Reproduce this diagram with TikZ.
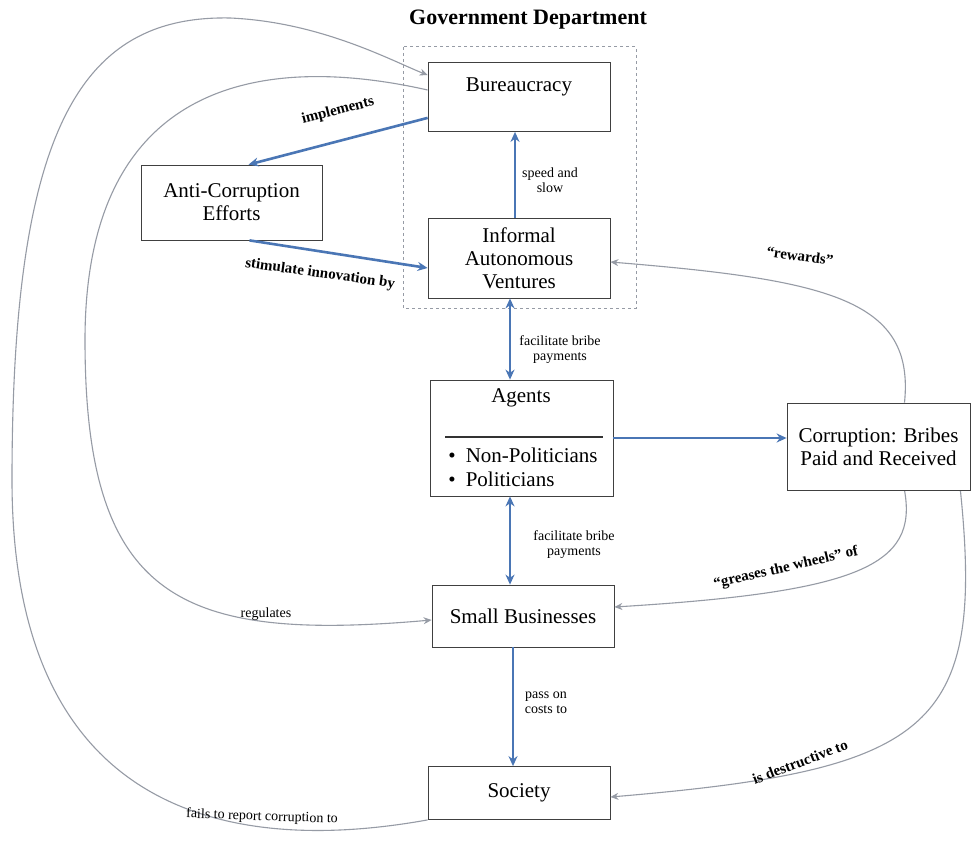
\documentclass[tikz,border=0pt]{standalone}
\usepackage{fontspec}
\setmainfont{Liberation Serif}
\usetikzlibrary{arrows.meta,calc}
\definecolor{flowblue}{RGB}{74,118,181}
\definecolor{curvegray}{RGB}{150,155,165}
\tikzset{
  box/.style={draw=black!75, line width=0.8pt, fill=white, inner sep=2pt, align=center,
              font=\fontsize{21}{23}\selectfont},
  bluearrow/.style={draw=flowblue, line width=2.6pt, -{Stealth[length=10pt,width=9pt]}},
  bluetwo/.style={draw=flowblue, line width=2.6pt, {Stealth[length=10pt,width=9pt]}-{Stealth[length=10pt,width=9pt]}},
  grayarrow/.style={draw=curvegray, line width=1.1pt, -{Stealth[length=8pt,width=7pt]}},
  lbl/.style={font=\fontsize{14}{15}\selectfont, align=center, inner sep=1pt},
  blbl/.style={font=\fontsize{15}{16}\selectfont\bfseries, inner sep=1pt},
}
\begin{document}
\begin{tikzpicture}[x=1pt,y=-1pt]
\useasboundingbox[fill=white] (0,0) rectangle (971,842);

% title
\node[font=\fontsize{22}{24}\selectfont\bfseries] (title) at (528,20) {Government Department};

% dashed group
\draw[curvegray, dashed, line width=1pt] (403,47) rectangle (636,308);

% boxes
\node[box, minimum width=182pt, minimum height=69pt] (bur) at (519,97) {};
\node[box, draw=none, fill=none, anchor=north] (burtxt) at ([yshift=-13pt]bur.north) {Bureaucracy};

\node[box, minimum width=181pt, minimum height=75pt] (anti) at (231.5,202.5) {Anti-Corruption\\Efforts};
\node[box, minimum width=182pt, minimum height=80pt] (inf) at (519,258) {Informal\\Autonomous\\Ventures};

\node[box, minimum width=183pt, minimum height=116pt] (agt) at (521.5,438) {};
\node[box, draw=none, fill=none] (agttxt) at (521,398) {Agents};
\draw[black!80, line width=1.6pt] (445,437) -- (603,437);
\node[box, draw=none, fill=none, anchor=west] (np) at (446,455) {\textbullet\hspace{10pt}Non-Politicians};
\node[box, draw=none, fill=none, anchor=west] (pol) at (446,479) {\textbullet\hspace{10pt}Politicians};

\node[box, minimum width=183pt, minimum height=87pt] (cor) at (878.5,446.5) {Corruption: Bribes\\Paid and Received};
\node[box, minimum width=182pt, minimum height=62pt] (sb) at (523,616) {Small Businesses};
\node[box, minimum width=182pt, minimum height=53pt] (soc) at (519,793) {Society};

% gray curves
\draw[grayarrow] (soc.south west) .. controls (250,852) and (12,830) .. (12,480)
   .. controls (12,130) and (80,15) .. (230,18)
   .. controls (320,22) and (390,60) .. ([yshift=-13pt]bur.north west);
\draw[grayarrow] ([yshift=7pt]bur.west) .. controls (250,50) and (85,90) .. (85,340)
   .. controls (85,600) and (180,642) .. ([yshift=-4pt]sb.west);
\draw[grayarrow] ([xshift=26pt]cor.north) .. controls (915,300) and (830,280) .. ([yshift=-4pt]inf.east);
\draw[grayarrow] ([xshift=26pt]cor.south) .. controls (918,565) and (860,592) .. ([yshift=9pt]sb.east);
\draw[grayarrow] ([xshift=-10pt]cor.south east) .. controls (985,730) and (930,770) .. ([yshift=-4pt]soc.east);

% redraw corruption box above curves
\node[box, minimum width=183pt, minimum height=87pt] (cor2) at (cor) {Corruption: Bribes\\Paid and Received};

% blue arrows
\draw[bluearrow] ($(bur.south west)+(0,-14)$) -- ([xshift=17pt]anti.north);
\draw[bluearrow] ([xshift=18pt]anti.south) -- ([yshift=-10pt]inf.west);
\draw[bluearrow] ([xshift=-4pt]inf.north) -- ([xshift=-4pt]bur.south);
\draw[bluetwo] ([xshift=-9pt]inf.south) -- ([xshift=-11.5pt]agt.north);
\draw[bluearrow] (agt.east) -- (cor.west |- agt.east);
\draw[bluetwo] ([xshift=-11.5pt]agt.south) -- ([xshift=-13pt]sb.north);
\draw[bluearrow] ([xshift=-10pt]sb.south) -- ([xshift=-6pt]soc.north);

% labels
\node[blbl, rotate=14.5] (limp) at (338,111) {implements};
\node[blbl, rotate=-8] (lstim) at (320,274) {stimulate innovation by};
\node[lbl] (lspeed) at (550,180) {speed and\\slow};
\node[lbl] (lfac1) at (560,350) {facilitate bribe\\payments};
\node[lbl] (lfac2) at (574,545) {facilitate bribe\\payments};
\node[lbl] (lpass) at (546,703) {pass on\\costs to};
\node[blbl, rotate=-8] (lrew) at (800,256) {``rewards''};
\node[blbl, rotate=13] (lgrease) at (786,568) {``greases the wheels'' of};
\node[blbl, rotate=21] (ldest) at (800,762) {is destructive to};
\node[lbl] (lreg) at (266,614) {regulates};
\node[lbl, rotate=-2] (lfail) at (262,817) {fails to report corruption to};
\end{tikzpicture}
\end{document}
